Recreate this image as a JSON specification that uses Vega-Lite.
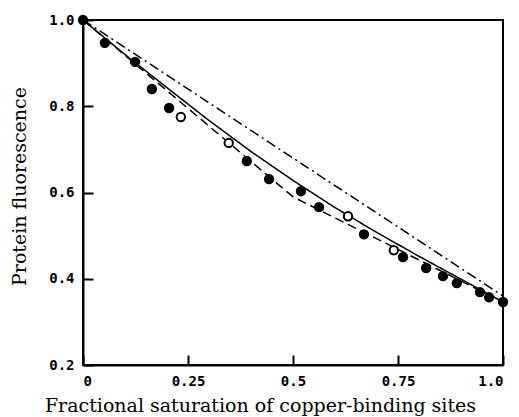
{
  "$schema": "https://vega.github.io/schema/vega-lite/v6.json",
  "width": 420,
  "height": 345,
  "autosize": "none",
  "padding": {"left": 83, "top": 20, "right": 16, "bottom": 52},
  "background": "white",
  "config": {
    "view": {"stroke": "black", "strokeWidth": 2, "fill": null},
    "axis": {
      "grid": false,
      "ticks": true,
      "tickColor": "black",
      "tickWidth": 2,
      "tickSize": -10,
      "labelPadding": 19,
      "domainColor": "black",
      "domainWidth": 2,
      "labelFont": "DejaVu Sans Mono",
      "labelFontWeight": "bold",
      "labelFontSize": 14,
      "labelColor": "black",
      "titleFont": "DejaVu Serif",
      "titleFontWeight": "normal",
      "titleFontSize": 19,
      "titleColor": "black"
    }
  },
  "datasets": {
    "curves": [
      {"curve": "solid", "x": 0.0, "y": 1.0},
      {"curve": "solid", "x": 0.1, "y": 0.92},
      {"curve": "solid", "x": 0.2, "y": 0.843},
      {"curve": "solid", "x": 0.3, "y": 0.767},
      {"curve": "solid", "x": 0.4, "y": 0.695},
      {"curve": "solid", "x": 0.5, "y": 0.628},
      {"curve": "solid", "x": 0.6, "y": 0.565},
      {"curve": "solid", "x": 0.7, "y": 0.507},
      {"curve": "solid", "x": 0.8, "y": 0.452},
      {"curve": "solid", "x": 0.9, "y": 0.399},
      {"curve": "solid", "x": 1.0, "y": 0.346},
      {"curve": "dashed", "x": 0.0, "y": 1.0},
      {"curve": "dashed", "x": 0.5, "y": 0.59},
      {"curve": "dashed", "x": 1.0, "y": 0.346},
      {"curve": "dashdot", "x": 0.0, "y": 1.0},
      {"curve": "dashdot", "x": 1.0, "y": 0.36}
    ],
    "points": [
      {"kind": "filled", "x": 0.0, "y": 1.0},
      {"kind": "filled", "x": 0.052, "y": 0.947},
      {"kind": "filled", "x": 0.124, "y": 0.903},
      {"kind": "filled", "x": 0.164, "y": 0.84},
      {"kind": "filled", "x": 0.205, "y": 0.796},
      {"kind": "open", "x": 0.233, "y": 0.775},
      {"kind": "open", "x": 0.347, "y": 0.715},
      {"kind": "filled", "x": 0.39, "y": 0.673},
      {"kind": "filled", "x": 0.443, "y": 0.631},
      {"kind": "filled", "x": 0.519, "y": 0.603},
      {"kind": "filled", "x": 0.562, "y": 0.566},
      {"kind": "open", "x": 0.631, "y": 0.545},
      {"kind": "filled", "x": 0.669, "y": 0.503},
      {"kind": "open", "x": 0.74, "y": 0.466},
      {"kind": "filled", "x": 0.762, "y": 0.45},
      {"kind": "filled", "x": 0.817, "y": 0.425},
      {"kind": "filled", "x": 0.857, "y": 0.406},
      {"kind": "filled", "x": 0.89, "y": 0.39},
      {"kind": "filled", "x": 0.945, "y": 0.369},
      {"kind": "filled", "x": 0.967, "y": 0.357},
      {"kind": "filled", "x": 1.0, "y": 0.346}
    ]
  },
  "layer": [
    {
      "data": {"name": "curves"},
      "mark": {"type": "line", "color": "black", "strokeWidth": 1.5},
      "encoding": {
        "x": {"field": "x", "type": "quantitative", "scale": {"domain": [0, 1], "nice": false, "zero": false},
          "axis": {
            "title": "Fractional saturation of copper-binding sites",
            "values": [0, 0.25, 0.5, 0.75, 1],
            "labelExpr": "datum.value == 0 ? '0' : datum.value == 1 ? '1.0' : datum.value == 0.5 ? '0.5' : datum.value == 0.25 ? '0.25' : '0.75'",
            "titleX": 177,
            "titleY": 46,
            "titleAlign": "center",
            "titleBaseline": "alphabetic"
          }
        },
        "y": {"field": "y", "type": "quantitative", "scale": {"domain": [0.2, 1], "nice": false, "zero": false},
          "axis": {
            "title": "Protein fluorescence",
            "values": [0.2, 0.4, 0.6, 0.8, 1.0],
            "labelExpr": "format(datum.value, '.1f')",
            "titleX": -58,
            "titleY": 166,
            "titleAlign": "center",
            "titleBaseline": "alphabetic"
          }
        },
        "strokeDash": {
          "field": "curve",
          "type": "nominal",
          "scale": {"domain": ["solid", "dashed", "dashdot"], "range": [[1, 0], [9, 5], [10, 4, 2, 4]]},
          "legend": null
        },
        "order": {"field": "x", "type": "quantitative"}
      }
    },
    {
      "data": {"name": "points"},
      "mark": {"type": "point", "shape": "circle", "filled": true, "stroke": "black", "strokeWidth": 2, "size": 70, "opacity": 1},
      "encoding": {
        "x": {"field": "x", "type": "quantitative"},
        "y": {"field": "y", "type": "quantitative"},
        "fill": {
          "field": "kind",
          "type": "nominal",
          "scale": {"domain": ["filled", "open"], "range": ["black", "white"]},
          "legend": null
        }
      }
    }
  ]
}
